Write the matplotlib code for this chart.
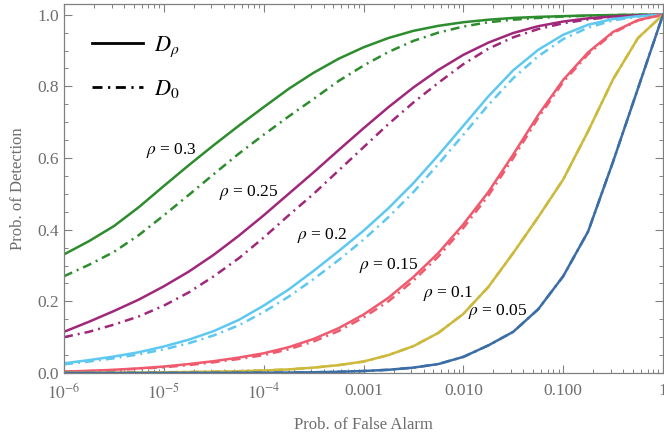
import numpy as np
import matplotlib
matplotlib.use("Agg")
import matplotlib.pyplot as plt
from matplotlib.ticker import LogLocator, NullFormatter, MultipleLocator
from matplotlib.lines import Line2D

plt.rcParams['font.family'] = ['Liberation Serif', 'DejaVu Serif']
plt.rcParams['mathtext.fontset'] = 'stix'

# false alarm probability grid (log10 exponents)
pfa_exp = [-6, -5.75, -5.5, -5.25, -5, -4.75, -4.5, -4.25, -4, -3.75, -3.5, -3.25, -3,
           -2.75, -2.5, -2.25, -2, -1.75, -1.5, -1.25, -1, -0.75, -0.5, -0.25, 0]

rho_labels = ["0.3", "0.25", "0.2", "0.15", "0.1", "0.05"]
colors = ["#2D8C2D", "#A0287A", "#5FC8F0", "#F05A6E", "#CDB93C", "#3C6EA5"]

# detection probability, D_rho (solid)
pd_rho_30 = [0.331, 0.368, 0.41, 0.463, 0.522, 0.58, 0.636, 0.69, 0.742, 0.793, 0.838, 0.877, 0.909,
             0.935, 0.955, 0.969, 0.979, 0.986, 0.991, 0.994, 0.996, 0.998, 0.999, 1.0, 1.0]
pd_rho_25 = [0.115, 0.143, 0.173, 0.205, 0.242, 0.283, 0.33, 0.383, 0.44, 0.50, 0.56, 0.622, 0.683,
             0.742, 0.797, 0.846, 0.888, 0.922, 0.949, 0.968, 0.981, 0.99, 0.995, 0.998, 1.0]
pd_rho_20 = [0.027, 0.036, 0.046, 0.058, 0.074, 0.093, 0.117, 0.148, 0.188, 0.233, 0.285, 0.34, 0.397,
             0.46, 0.53, 0.608, 0.69, 0.772, 0.845, 0.902, 0.944, 0.972, 0.988, 0.996, 1.0]
pd_rho_15 = [0.004, 0.006, 0.009, 0.013, 0.018, 0.025, 0.033, 0.043, 0.055, 0.072, 0.095, 0.125, 0.163,
             0.21, 0.268, 0.335, 0.415, 0.505, 0.61, 0.72, 0.818, 0.895, 0.952, 0.985, 1.0]
pd_rho_10 = [0.0005, 0.0007, 0.001, 0.0014, 0.002, 0.0027, 0.0037, 0.005, 0.007, 0.01, 0.015, 0.022, 0.032,
             0.05, 0.075, 0.112, 0.165, 0.24, 0.335, 0.435, 0.54, 0.675, 0.82, 0.935, 1.0]
pd_rho_05 = [0.00002, 0.00003, 0.00005, 0.00007, 0.0001, 0.0002, 0.0003, 0.0005, 0.0008, 0.0013, 0.002, 0.0033, 0.0055,
             0.009, 0.015, 0.025, 0.045, 0.077, 0.115, 0.178, 0.27, 0.395, 0.59, 0.795, 1.0]

# detection probability, D_0 (dash-dot)
pd_0_30 = [0.27, 0.302, 0.338, 0.385, 0.44, 0.497, 0.555, 0.612, 0.665, 0.716, 0.765, 0.815, 0.858,
           0.896, 0.927, 0.95, 0.967, 0.979, 0.986, 0.991, 0.995, 0.997, 0.999, 1.0, 1.0]
pd_0_25 = [0.10, 0.115, 0.135, 0.158, 0.188, 0.225, 0.27, 0.32, 0.378, 0.44, 0.50, 0.565, 0.63,
           0.695, 0.755, 0.81, 0.862, 0.905, 0.937, 0.96, 0.976, 0.987, 0.994, 0.998, 1.0]
pd_0_20 = [0.024, 0.032, 0.041, 0.052, 0.066, 0.083, 0.105, 0.133, 0.17, 0.213, 0.262, 0.315, 0.372,
           0.435, 0.505, 0.583, 0.665, 0.748, 0.823, 0.884, 0.932, 0.964, 0.984, 0.995, 1.0]
pd_0_15 = [0.0035, 0.0055, 0.008, 0.012, 0.016, 0.022, 0.03, 0.039, 0.05, 0.066, 0.088, 0.117, 0.155,
           0.2, 0.258, 0.325, 0.405, 0.495, 0.6, 0.712, 0.812, 0.89, 0.949, 0.984, 1.0]
pd_0_10 = pd_rho_10
pd_0_05 = pd_rho_05

pd_rho = [pd_rho_30, pd_rho_25, pd_rho_20, pd_rho_15, pd_rho_10, pd_rho_05]
pd_0 = [pd_0_30, pd_0_25, pd_0_20, pd_0_15, pd_0_10, pd_0_05]

# label anchor points (pfa, pd)
label_x = [1.2e-5, 7.1e-5, 3.9e-4, 1.8e-3, 7.0e-3, 2.23e-2]
label_y = [0.621, 0.504, 0.384, 0.301, 0.223, 0.173]

pfa = 10.0 ** np.array(pfa_exp)
gray = "#808080"

fig = plt.figure(figsize=(6.64, 4.41), dpi=100)
ax = fig.add_axes([0.0964, 0.1542, 0.9021, 0.8368])

dashdot = (0, (3.6, 2.0, 0.8, 2.0))
for i in range(len(rho_labels)):
    ax.plot(pfa, pd_0[i], color=colors[i], lw=1.8, ls=dashdot)
    ax.plot(pfa, pd_rho[i], color=colors[i], lw=1.8)
    ax.text(label_x[i], label_y[i], r"$\rho$ = " + rho_labels[i], fontsize=12.5,
            ha='center', va='center', color='black')

ax.set_xscale('log')
ax.set_xlim(1e-6, 1)
ax.set_ylim(0, 1.03)

ax.set_xticks([1e-6, 1e-5, 1e-4, 1e-3, 1e-2, 1e-1, 1])
ax.set_xticklabels([r"$10^{-6}$", r"$10^{-5}$", r"$10^{-4}$", "0.001", "0.010", "0.100", "1"])
ax.xaxis.set_minor_locator(LogLocator(base=10, subs=np.arange(2, 10), numticks=20))
ax.xaxis.set_minor_formatter(NullFormatter())
ax.set_yticks([0, 0.2, 0.4, 0.6, 0.8, 1.0])
ax.set_yticklabels(["0.0", "0.2", "0.4", "0.6", "0.8", "1.0"])
ax.yaxis.set_minor_locator(MultipleLocator(0.05))

ax.tick_params(which='both', direction='in', top=True, right=True, color=gray,
               labelcolor="#6E6E6E", labelsize=12.5)
ax.tick_params(which='major', length=5.5, width=0.8)
ax.tick_params(which='minor', length=3.2, width=0.7)
ax.tick_params(axis='x', which='major', pad=7)
for s in ax.spines.values():
    s.set_color(gray)
    s.set_linewidth(0.9)

ax.set_xlabel("Prob. of False Alarm", fontsize=12, color="#6E6E6E", labelpad=10)
ax.set_ylabel("Prob. of Detection", fontsize=12, color="#6E6E6E", labelpad=8)

handles = [Line2D([], [], color='black', lw=2.0),
           Line2D([], [], color='black', lw=2.0, ls=dashdot)]
ax.legend(handles, [r"$D_\rho$", r"$D_0$"], loc='upper left', bbox_to_anchor=(0.047, 0.917),
          frameon=False, fontsize=16, handlelength=2.3, handletextpad=0.5,
          labelspacing=0.86, borderpad=0, borderaxespad=0)

fig.savefig("out.png", dpi=100)
